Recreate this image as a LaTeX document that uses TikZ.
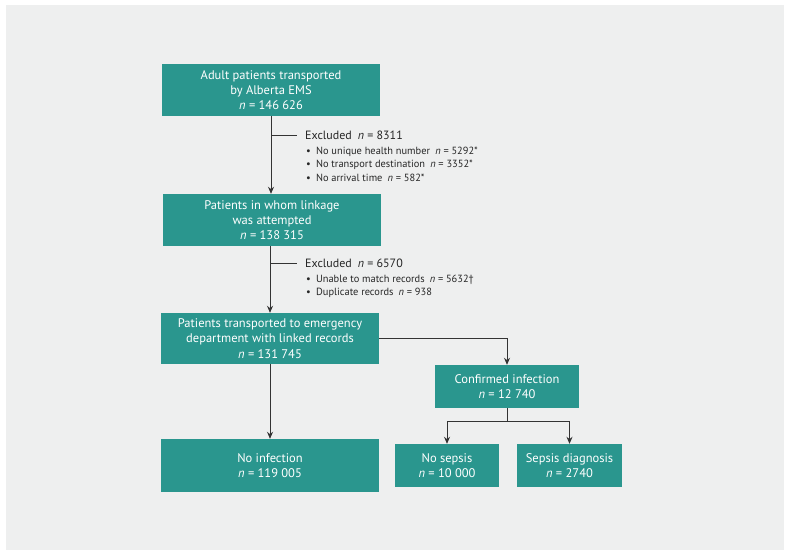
\documentclass[tikz,border=0pt]{standalone}
\usepackage{fontspec}
\setmainfont{PT Sans}
\usetikzlibrary{arrows.meta,positioning}
\definecolor{teal0}{HTML}{2A968E}
\definecolor{panel}{HTML}{EEEFEF}
\definecolor{linec}{HTML}{333333}
\tikzset{
  box/.style={fill=teal0, draw=none, text=white, align=center, inner sep=0pt, font=\fontsize{12.5}{15.2}\selectfont},
  conn/.style={draw=linec, line width=0.8pt},
  arr/.style={conn, -{Stealth[length=7pt,width=6pt]}},
  excl/.style={anchor=west, align=left, inner sep=0pt, text=black!85, font=\fontsize{12}{14}\selectfont},
  bul/.style={anchor=west, align=left, inner sep=0pt, text=black!85, font=\fontsize{10.4}{13}\selectfont}
}
\begin{document}
\begin{tikzpicture}[x=1pt,y=-1pt]
\useasboundingbox (0,0) rectangle (791,557);
\fill[white] (0,0) rectangle (791,557);
\fill[panel] (6,5) rectangle (784,550);
% boxes
\node[box, minimum width=218pt, minimum height=52pt] (b1) at (271,90) {Adult patients transported\\by Alberta EMS\\\textit{n} = 146 626};
\node[box, minimum width=218pt, minimum height=52pt] (b2) at (272,220) {Patients in whom linkage\\was attempted\\\textit{n} = 138 315};
\node[box, minimum width=218pt, minimum height=51pt] (b3) at (270,338.5) {Patients transported to emergency\\department with linked records\\\textit{n} = 131 745};
\node[box, minimum width=218pt, minimum height=53pt] (b4) at (270,465.5) {No infection\\\textit{n} = 119 005};
\node[box, minimum width=144pt, minimum height=43pt] (ci) at (507,386.5) {Confirmed infection\\\textit{n} = 12 740};
\node[box, minimum width=104pt, minimum height=43pt] (ns) at (447,465.5) {No sepsis\\\textit{n} = 10 000};
\node[box, minimum width=105pt, minimum height=43pt] (sd) at (569.5,465.5) {Sepsis diagnosis\\\textit{n} = 2740};
% exclusion texts
\node[excl] (e1) at (305,135) {Excluded\enspace\textit{n} = 8311};
\node[bul] (e1a) at (306,152) {\textbullet\enspace No unique health number\enspace\textit{n} = 5292*};
\node[bul] (e1b) at (306,165) {\textbullet\enspace No transport destination\enspace\textit{n} = 3352*};
\node[bul] (e1c) at (306,178) {\textbullet\enspace No arrival time\enspace\textit{n} = 582*};
\node[excl] (e2) at (305,263) {Excluded\enspace\textit{n} = 6570};
\node[bul] (e2a) at (306,280) {\textbullet\enspace Unable to match records\enspace\textit{n} = 5632\textdagger};
\node[bul] (e2b) at (306,293) {\textbullet\enspace Duplicate records\enspace\textit{n} = 938};
% connectors
\coordinate (j1) at (b1.south |- e1.west);
\coordinate (j2) at (270,0 |- e2.west);
\draw[arr] (b1.south) -- (b1.south |- b2.north);
\draw[conn] (j1) -- ([xshift=-8pt]e1.west);
\draw[arr] (270,0 |- b2.south) -- (270,0 |- b3.north);
\draw[conn] (j2) -- ([xshift=-8pt]e2.west);
\draw[arr] (b3.south) -- (b4.north);
\draw[arr] (b3.east) -| (ci.north);
\coordinate (k) at (ci.south |- 0,421);
\draw[conn] (ci.south) -- (k);
\draw[arr] (k) -| (ns.north);
\draw[arr] (k) -| (sd.north);
\end{tikzpicture}
\end{document}
